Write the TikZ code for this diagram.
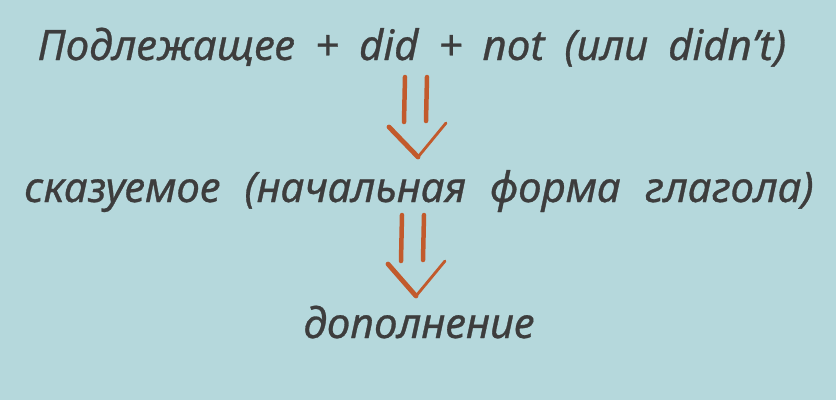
\documentclass[tikz,border=0pt]{standalone}
\usepackage{fontspec}
\setmainfont{Noto Sans}
\newfontfamily\handfont{Noto Sans}[ItalicFeatures={FakeBold=0.7}]
\definecolor{bgblue}{HTML}{B5D8DC}
\definecolor{inkgray}{HTML}{3D3D3D}
\definecolor{arroworange}{HTML}{C25A2C}
\newdimen\wordgap
\tikzset{
  txt/.style={anchor=base, inner sep=0pt, text=inkgray, font=\handfont\itshape\fontsize{42}{50}\selectfont},
  gap/.style={execute at begin node={\wordgap=#1pt\spaceskip=\wordgap}},
}
\tikzset{
  shaft/.style={draw=arroworange, line width=4.5pt, line cap=round},
  veeleft/.style={draw=arroworange, line width=4.8pt, line cap=round},
  veeright/.style={draw=arroworange, line width=2.8pt, line cap=round},
}
\begin{document}
\begin{tikzpicture}[x=1pt,y=-1pt]
  \fill[bgblue] (0,0) rectangle (836,400);
  \useasboundingbox (0,0) rectangle (836,400);
  \node[txt, gap=20] (l1) at (412,60) {Подлежащее + did + not (или didn’t)};
  \node[txt, gap=24] (l2) at (419,202) {сказуемое (начальная форма глагола)};
  \node[txt] (l3) at (419,338) {дополнение};
  % arrow 1
  \coordinate (a1tip) at (418,157);
  \draw[shaft] (405,77) -- (404,122);
  \draw[shaft] (427,77) -- (426,121);
  \draw[veeleft] (389,127) -- (a1tip);
  \draw[veeright] (a1tip) -- (446,123);
  % arrow 2
  \coordinate (a2tip) at (416,296);
  \draw[shaft] (402,215) -- (401,261);
  \draw[shaft] (424,215) -- (423,260);
  \draw[veeleft] (388,264) -- (a2tip);
  \draw[veeright] (a2tip) -- (445,261);
\end{tikzpicture}
\end{document}
